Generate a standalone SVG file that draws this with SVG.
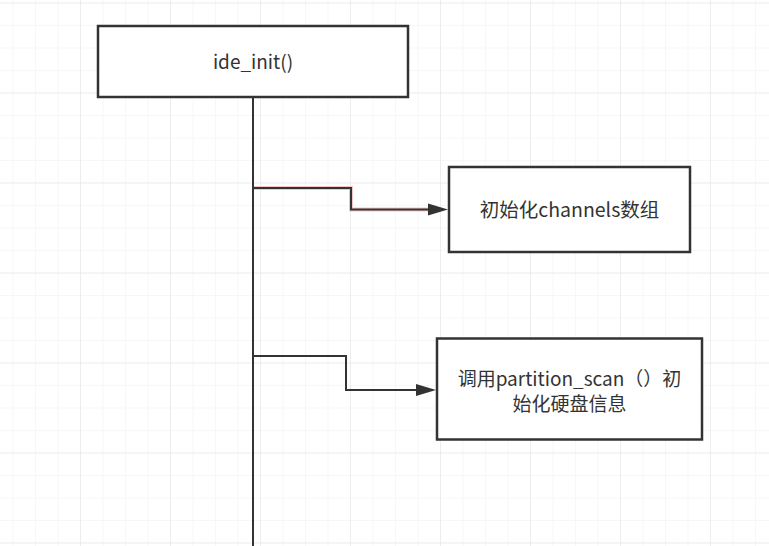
<svg xmlns="http://www.w3.org/2000/svg" width="769" height="546" viewBox="0 0 769 546">
<defs>
<pattern id="minor" x="12.5" y="2.5" width="22.5" height="22.5" patternUnits="userSpaceOnUse">
<path d="M0 0 H22.5 M0 0 V22.5" fill="none" stroke="#f0f0f0" stroke-width="1"/>
</pattern>
<pattern id="major" x="80" y="2.5" width="90" height="90" patternUnits="userSpaceOnUse">
<path d="M0 0 H90 M0 0 V90" fill="none" stroke="#e4e4e4" stroke-width="1"/>
</pattern>
</defs>
<style>
.box{fill:#ffffff;stroke:#333333;stroke-width:2.5}
.lbl{font-family:"Noto Sans CJK SC","Noto Sans",sans-serif;font-size:19.5px;fill:#333333;text-anchor:middle}
.edge{fill:none;stroke:#333333;stroke-width:2}
.halo{fill:none;stroke:#f2c4c4;stroke-width:4}
.head{fill:#333333;stroke:none}
</style>
<rect width="769" height="546" fill="#ffffff"/>
<rect width="769" height="546" fill="url(#minor)"/>
<rect width="769" height="546" fill="url(#major)"/>
<g id="connectors">
<path class="edge" d="M253 97 V546"/>
<path class="halo" d="M254 188 H351 V209.5 H430"/>
<path class="edge" d="M254 188 H351 V209.5 H430"/>
<polygon class="head" points="428,203.5 448,209.5 428,215.5"/>
<path class="edge" d="M254 356 H346 V390 H418"/>
<polygon class="head" points="416,384 436,390 416,396"/>
</g>
<g id="ide_init">
<rect class="box" x="98" y="26" width="310" height="71"/>
<text class="lbl" x="253" y="69" style="font-size:19px">ide_init()</text>
</g>
<g id="channels">
<rect class="box" x="449" y="167" width="241" height="85"/>
<text class="lbl" x="569.5" y="217">初始化channels数组</text>
</g>
<g id="partition_scan">
<rect class="box" x="437" y="338.5" width="265" height="101"/>
<text class="lbl" x="569.5" y="386" style="font-size:19px">调用partition_scan（）初</text>
<text class="lbl" x="569.5" y="411" style="font-size:19px">始化硬盘信息</text>
</g>
</svg>
